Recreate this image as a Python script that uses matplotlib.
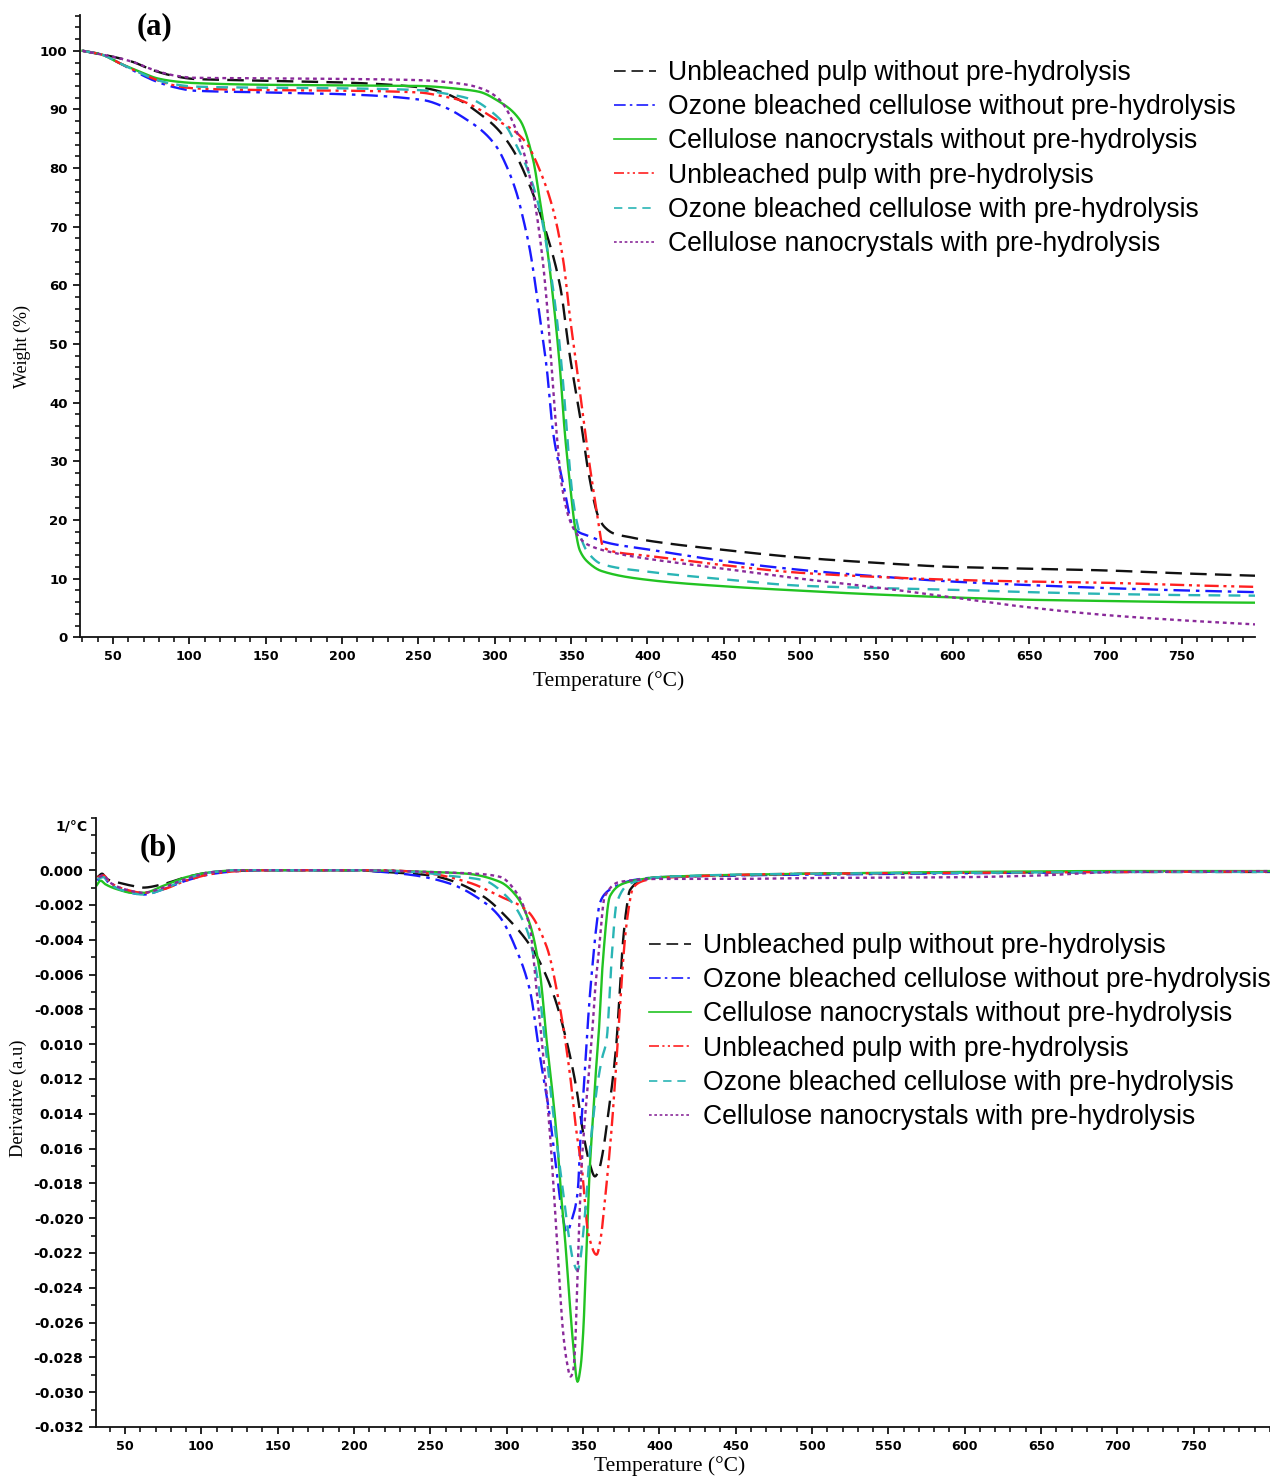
import matplotlib
matplotlib.use("Agg")
import matplotlib.pyplot as plt
from matplotlib.ticker import MultipleLocator, FixedLocator, FixedFormatter
import numpy as np

# ---------------- DATA ----------------
labels = ["Unbleached pulp without pre-hydrolysis",
          "Ozone bleached cellulose without pre-hydrolysis",
          "Cellulose nanocrystals without pre-hydrolysis",
          "Unbleached pulp with pre-hydrolysis",
          "Ozone bleached cellulose with pre-hydrolysis",
          "Cellulose nanocrystals with pre-hydrolysis"]

# Panel (a): TGA weight (%)
a_black_T = [30, 48, 63, 76, 90, 103, 130, 150, 200, 250, 265, 277, 290, 301, 312, 325, 334, 343, 349, 356, 362, 368, 372, 378, 390, 400, 450, 500, 550, 600, 650, 700, 750, 798]
a_black_W = [100, 99.1, 98.1, 96.7, 95.7, 95.2, 95.0, 94.9, 94.6, 93.8, 93.0, 91.6, 89.3, 86.9, 83.1, 75.7, 68.8, 59.7, 48.4, 37.5, 27.3, 20.5, 18.8, 17.7, 17.0, 16.5, 14.9, 13.6, 12.7, 12.0, 11.7, 11.4, 10.9, 10.5]

a_blue_T = [30, 42, 55, 68, 79, 90, 103, 150, 200, 253, 268, 282, 292, 301.3, 308, 314.4, 319, 323.1, 329.6, 334, 338.4, 344.9, 351.4, 356, 360.2, 370, 377.6, 400, 450, 500, 550, 600, 650, 700, 750, 798]
a_blue_W = [100, 99.4, 97.8, 96.0, 94.7, 93.8, 93.2, 92.9, 92.6, 91.6, 90.3, 88.2, 86.3, 83.6, 80.2, 75.7, 71.0, 66.0, 54.6, 46.1, 34.7, 26.2, 18.8, 17.8, 17.4, 16.4, 15.9, 15.0, 13.0, 11.5, 10.4, 9.5, 8.9, 8.4, 8.0, 7.7]

a_green_T = [30, 42, 55, 68, 79, 90, 103, 150, 200, 250, 280, 290, 301.3, 316.5, 325.2, 329.6, 334, 338.4, 342.7, 346, 349.3, 352.6, 355.8, 362, 370, 400, 450, 500, 550, 600, 650, 700, 750, 798]
a_green_W = [100, 99.4, 97.8, 96.4, 95.3, 94.8, 94.5, 94.2, 94.1, 94.0, 93.4, 93.0, 91.6, 88.2, 81.4, 74.5, 67.1, 57.5, 46.1, 34.7, 26.2, 18.8, 14.8, 12.6, 11.3, 9.8, 8.7, 7.95, 7.3, 6.8, 6.4, 6.2, 6.0, 5.9]

a_red_T = [30, 42, 55, 68, 79, 90, 103, 150, 200, 250, 265, 277, 290, 301.3, 313, 320.9, 329.6, 338.4, 344.9, 349.3, 353.7, 358, 362.4, 366.8, 371.1, 380, 400, 450, 500, 550, 600, 650, 700, 750, 798]
a_red_W = [100, 99.4, 97.8, 96.2, 95.0, 94.1, 93.6, 93.3, 93.2, 92.9, 92.3, 91.6, 90.0, 88.2, 86.3, 84.2, 79.6, 72.8, 64.3, 54.6, 46.1, 37.5, 29.0, 21.6, 15.4, 14.5, 13.9, 12.3, 11.0, 10.3, 9.8, 9.5, 9.3, 8.9, 8.6]

a_cyan_T = [30, 42, 55, 68, 79, 90, 103, 150, 200, 250, 270, 286, 297, 307.8, 314, 320.9, 329.6, 336.2, 340.6, 344.9, 348.2, 351.4, 355.8, 360.2, 370, 400, 450, 500, 550, 600, 650, 700, 750, 798]
a_cyan_W = [100, 99.4, 97.8, 96.2, 95.0, 94.3, 93.9, 93.7, 93.6, 93.3, 92.6, 91.6, 89.8, 87.0, 84.0, 80.2, 72.8, 63.1, 54.6, 43.2, 31.9, 23.3, 17.6, 14.8, 12.5, 11.2, 9.9, 8.8, 8.4, 8.1, 7.7, 7.4, 7.2, 7.1]

a_purple_T = [30, 48, 63, 76, 90, 103, 150, 200, 250, 280, 293, 303.4, 316.5, 325.2, 330.7, 334, 337.3, 340.6, 343.8, 349.3, 355, 360.2, 380, 400, 450, 500, 550, 600, 650, 700, 750, 798]
a_purple_W = [100, 99.1, 98.1, 96.8, 95.8, 95.4, 95.3, 95.2, 95.0, 94.3, 93.4, 91.6, 84.8, 75.7, 66.0, 57.5, 46.1, 34.7, 26.2, 19.9, 17.2, 15.9, 14.3, 13.4, 11.7, 10.0, 8.5, 6.8, 5.1, 3.8, 2.9, 2.2]

# Panel (b): DTG derivative (1/°C)
b_black_T = [32, 35, 38, 45, 55, 62, 75, 90, 108, 125, 150, 200, 220, 250, 262.8, 284.6, 299.9, 317.4, 330.5, 339.2, 345.8, 350.1, 354.5, 357.8, 360.5, 363.2, 366.5, 369.5, 372, 374, 376.3, 378.5, 380.7, 391.6, 400, 450, 500, 600, 700, 800]
b_black_D = [-0.0004, -0.0002, -0.0005, -0.0007, -0.0009, -0.0010, -0.0008, -0.0004, -0.0001, -0.00003, 0, 0, -0.0001, -0.0003, -0.00057, -0.0015, -0.0027, -0.0046, -0.0071, -0.0098, -0.0126, -0.0151, -0.0169, -0.0176, -0.0172, -0.0161, -0.0140, -0.0120, -0.0098, -0.0070, -0.0040, -0.0022, -0.00115, -0.00048, -0.0004, -0.0003, -0.0002, -0.00015, -0.0001, -0.0001]

b_blue_T = [32, 35, 40, 50, 62, 75, 90, 108, 125, 150, 200, 219, 240, 262.8, 284.6, 295.6, 306.5, 315.2, 321.8, 328, 332, 336, 339.3, 343, 346.5, 348.5, 350.5, 352.4, 354.5, 356.7, 358.8, 361, 365, 369.8, 382.9, 400, 500, 600, 700, 800]
b_blue_D = [-0.0006, -0.0003, -0.0008, -0.0012, -0.0014, -0.0011, -0.0006, -0.0002, -0.00005, 0, 0, -0.0001, -0.0003, -0.00077, -0.0018, -0.0027, -0.0046, -0.0069, -0.0107, -0.0140, -0.0168, -0.0195, -0.0208, -0.0200, -0.0185, -0.0151, -0.0125, -0.0098, -0.0072, -0.0050, -0.0032, -0.0019, -0.0013, -0.0010, -0.00057, -0.0004, -0.00025, -0.00018, -0.0001, -0.00008]

b_green_T = [31.5, 34, 37, 45, 55, 62, 75, 90, 108, 125, 200, 250, 273.8, 295.6, 306.5, 315.2, 321.8, 326.2, 330.5, 333, 336, 338.5, 341, 343.5, 346.4, 348.5, 350.1, 352.3, 354.5, 356.7, 358.5, 360, 363.2, 367.6, 376.3, 390, 400, 500, 600, 700, 800]
b_green_D = [-0.00086, -0.0006, -0.0008, -0.0011, -0.0013, -0.0013, -0.0009, -0.0004, -0.0001, 0, 0, -0.0001, -0.0002, -0.00067, -0.0015, -0.0031, -0.0059, -0.0098, -0.0132, -0.0155, -0.0190, -0.0215, -0.0245, -0.0272, -0.0294, -0.0285, -0.0266, -0.0218, -0.0170, -0.0140, -0.0115, -0.0098, -0.0050, -0.0015, -0.00077, -0.0005, -0.0004, -0.0002, -0.0001, -0.00005, -0.00005]

b_red_T = [32, 36, 40, 50, 62, 75, 90, 108, 125, 150, 220, 250, 275, 295.6, 313.1, 326.2, 334.9, 341.4, 345.8, 349.1, 353.5, 358.9, 361.5, 364.3, 368.5, 371.5, 374.2, 376, 378.5, 382.9, 390, 400, 500, 600, 700, 800]
b_red_D = [-0.0004, -0.0003, -0.0007, -0.0011, -0.0013, -0.0011, -0.0006, -0.0002, -0.00005, 0, 0, -0.0002, -0.0007, -0.0015, -0.0023, -0.0044, -0.0079, -0.0117, -0.0151, -0.0170, -0.0209, -0.0221, -0.0212, -0.0190, -0.0151, -0.0115, -0.0079, -0.0055, -0.0031, -0.0010, -0.0006, -0.00045, -0.0002, -0.00015, -0.0001, -0.00008]

b_cyan_T = [32, 36, 40, 50, 62, 75, 90, 108, 125, 200, 240, 260, 284.6, 299.9, 313.1, 319.6, 326.2, 332, 337, 341, 344, 346.4, 348, 350.1, 352.5, 354.5, 357, 360, 362.5, 365.4, 368.8, 372, 380.7, 400, 500, 600, 700, 800]
b_cyan_D = [-0.0005, -0.0004, -0.0008, -0.0012, -0.0014, -0.0011, -0.0005, -0.0001, 0, 0, -0.0001, -0.0003, -0.00057, -0.0015, -0.0034, -0.0059, -0.0107, -0.0151, -0.0185, -0.0212, -0.0226, -0.0230, -0.0225, -0.0209, -0.0185, -0.0161, -0.0140, -0.0120, -0.0108, -0.0098, -0.0050, -0.0019, -0.00077, -0.0004, -0.0002, -0.00015, -0.0001, -0.0001]

b_purple_T = [33, 36, 40, 50, 62, 75, 90, 108, 125, 200, 250, 280, 295.6, 306.5, 315.2, 319.6, 324, 328.3, 332.7, 337, 339.5, 341.8, 343.5, 344.7, 346.9, 349.1, 351.5, 354, 356.7, 358, 360, 364.3, 374.2, 400, 450, 500, 600, 650, 700, 800]
b_purple_D = [-0.0004, -0.0003, -0.0007, -0.0011, -0.0013, -0.0010, -0.0005, -0.0001, 0, 0, -0.0001, -0.0002, -0.00038, -0.0013, -0.0033, -0.0069, -0.0107, -0.0151, -0.0209, -0.0266, -0.0283, -0.0291, -0.0288, -0.0276, -0.0218, -0.0170, -0.0140, -0.0115, -0.0085, -0.0068, -0.0050, -0.0015, -0.00067, -0.0005, -0.0005, -0.00045, -0.0004, -0.0003, -0.0001, -0.00005]

xtick_vals = [50, 100, 150, 200, 250, 300, 350, 400, 450, 500, 550, 600, 650, 700, 750]
a_ytick_vals = [0, 10, 20, 30, 40, 50, 60, 70, 80, 90, 100]
b_ytick_vals = [0.000, -0.002, -0.004, -0.006, -0.008, -0.010, -0.012, -0.014, -0.016,
                -0.018, -0.020, -0.022, -0.024, -0.026, -0.028, -0.030, -0.032]
b_ytick_labels = ["0.000", "-0.002", "-0.004", "-0.006", "-0.008", "0.010", "0.012", "0.014", "0.016",
                  "-0.018", "-0.020", "-0.022", "-0.024", "-0.026", "-0.028", "-0.030", "-0.032"]

# ---------------- STYLE ----------------
colors = ["#111111", "#1a1aff", "#22c322", "#ff2020", "#2ab5b5", "#8a2a9a"]
styles = [(0, (7, 3.5)), (0, (7, 2.5, 1.5, 2.5)), "-", (0, (6, 2, 1.3, 2, 1.3, 2)), (0, (5, 3.5)), (0, (1.6, 1.6))]

W, H = 1270, 1476
fig = plt.figure(figsize=(W / 100, H / 100), dpi=100)

ax_a = fig.add_axes([80 / W, 1 - 637.3 / H, (1255 - 80) / W, (637.3 - 15) / H])
ax_b = fig.add_axes([96 / W, 1 - 1427 / H, (1270 - 96) / W, (1427 - 818) / H])

a_data = [(a_black_T, a_black_W), (a_blue_T, a_blue_W), (a_green_T, a_green_W),
          (a_red_T, a_red_W), (a_cyan_T, a_cyan_W), (a_purple_T, a_purple_W)]
b_data = [(b_black_T, b_black_D), (b_blue_T, b_blue_D), (b_green_T, b_green_D),
          (b_red_T, b_red_D), (b_cyan_T, b_cyan_D), (b_purple_T, b_purple_D)]


def smooth(T, V):
    """Monotone cubic (PCHIP) interpolation between the read points."""
    T = np.asarray(T, float)
    V = np.asarray(V, float)
    h = np.diff(T)
    d = np.diff(V) / h
    n = len(T)
    m = np.zeros(n)
    for i in range(1, n - 1):
        if d[i - 1] * d[i] <= 0:
            m[i] = 0
        else:
            w1 = 2 * h[i] + h[i - 1]
            w2 = h[i] + 2 * h[i - 1]
            m[i] = (w1 + w2) / (w1 / d[i - 1] + w2 / d[i])
    m[0] = d[0]
    m[-1] = d[-1]
    xs, ys = [], []
    for i in range(n - 1):
        t = np.linspace(0, 1, max(4, int(h[i] * 2)), endpoint=False)
        h00 = 2 * t**3 - 3 * t**2 + 1
        h10 = t**3 - 2 * t**2 + t
        h01 = -2 * t**3 + 3 * t**2
        h11 = t**3 - t**2
        xs.append(T[i] + t * h[i])
        ys.append(h00 * V[i] + h10 * h[i] * m[i] + h01 * V[i + 1] + h11 * h[i] * m[i + 1])
    xs.append([T[-1]])
    ys.append([V[-1]])
    return np.concatenate(xs), np.concatenate(ys)


for ax, data in ((ax_a, a_data), (ax_b, b_data)):
    for (T, V), c, ls, lab in zip(data, colors, styles, labels):
        x, y = smooth(T, V)
        ax.plot(x, y, color=c, linestyle=ls, lw=1.7, label=lab)

tick_font = dict(family="DejaVu Sans", weight="bold")

for ax in (ax_a, ax_b):
    for s in ("top", "right"):
        ax.spines[s].set_visible(False)
    for s in ("left", "bottom"):
        ax.spines[s].set_linewidth(1.3)
        ax.spines[s].set_color("#111111")
    ax.set_xticks(xtick_vals)
    ax.set_xticklabels([str(v) for v in xtick_vals], fontsize=9.2, **tick_font)
    ax.xaxis.set_minor_locator(MultipleLocator(10))
    ax.tick_params(axis="both", which="major", direction="out", length=5, width=1.2, pad=4)
    ax.tick_params(axis="both", which="minor", direction="out", length=3.5, width=1.1)

ax_a.set_xlim(28.4, 798)
ax_a.set_ylim(0, 106.1)
ax_a.set_yticks(a_ytick_vals)
ax_a.set_yticklabels([str(v) for v in a_ytick_vals], fontsize=9.5, **tick_font)
ax_a.yaxis.set_minor_locator(MultipleLocator(2))

ax_b.set_xlim(31, 800)
ax_b.set_ylim(-0.032, 0.003)
ax_b.yaxis.set_major_locator(FixedLocator(b_ytick_vals))
ax_b.yaxis.set_major_formatter(FixedFormatter(b_ytick_labels))
for t in ax_b.get_yticklabels():
    t.set_fontsize(10)
    t.set_fontweight("bold")
    t.set_family("DejaVu Sans")
ax_b.yaxis.set_minor_locator(MultipleLocator(0.001))

serif = "Liberation Serif"
fig.text(609 / W, 1 - 681 / H, "Temperature (°C)", ha="center", va="center", fontsize=15.5, family=serif)
fig.text(22 / W, 1 - 346 / H, "Weight (%)", ha="center", va="center", rotation=90, fontsize=13, family=serif)
fig.text(670 / W, 1 - 1466 / H, "Temperature (°C)", ha="center", va="center", fontsize=15.5, family=serif)
fig.text(18 / W, 1 - 1098 / H, "Derivative (a.u)", ha="center", va="center", rotation=90, fontsize=13.3, family=serif)
fig.text(154 / W, 1 - 27 / H, "(a)", ha="center", va="center", fontsize=22, family=serif, weight="bold")
fig.text(158 / W, 1 - 848 / H, "(b)", ha="center", va="center", fontsize=22, family=serif, weight="bold")
fig.text(88 / W, 1 - 826 / H, "1/°C", ha="right", va="center", fontsize=10, **tick_font)

leg_kw = dict(loc="upper left", frameon=False, borderpad=0, borderaxespad=0,
              handlelength=1.6, handletextpad=0.45, labelspacing=0.31,
              prop=dict(family="Liberation Sans", size=19.1))
lg_a = ax_a.legend(bbox_to_anchor=(614 / W, 1 - 60 / H), bbox_transform=fig.transFigure, **leg_kw)
lg_b = ax_b.legend(bbox_to_anchor=(649 / W, 1 - 933 / H), bbox_transform=fig.transFigure, **leg_kw)
for lg in (lg_a, lg_b):
    for ln in lg.get_lines():
        ln.set_linewidth(1.2)

fig.savefig("out.png", dpi=100, facecolor="white")
